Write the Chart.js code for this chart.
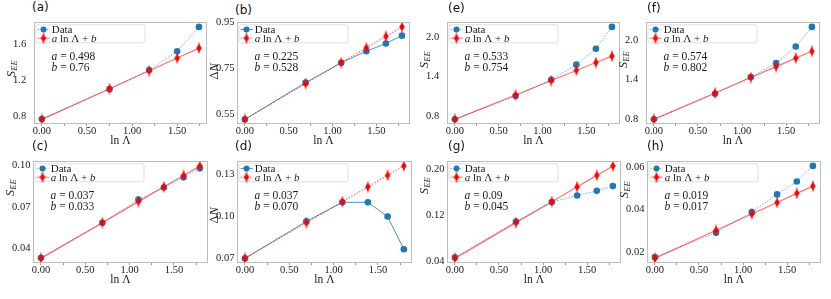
<!DOCTYPE html>
<html>
<head>
  <title>Entanglement fits</title>
  <script src="https://cdn.jsdelivr.net/npm/chart.js"></script>
  <style>
    body {
      margin: 0;
      width: 831px;
      height: 299px;
      position: relative;
      overflow: hidden;
      background: #fff;
    }
    .panel { position: absolute; }
    .tag {
      position: absolute;
      font-family: "DejaVu Sans", sans-serif;
      font-size: 12px;
      line-height: 1;
      color: #111;
    }
  </style>
</head>
<body>
  <script>
    // ln(Lambda) for Lambda = 1..5 and 1..6
    const lnLam5 = [0, 0.693, 1.099, 1.386, 1.609];
    const lnLam6 = [0, 0.693, 1.099, 1.386, 1.609, 1.792];

    const xTicks = [0, 0.5, 1.0, 1.5];
    const xTicksA = [0, 0.462, 0.924, 1.386];   // panel (a) has its own tick spots
    const xTickLabels = ['0.00', '0.50', '1.00', '1.50'];

    // (a) S_EE
    const dataA = [0.765, 1.10, 1.315, 1.525, 1.80];
    const fitA = [0.76, 1.105, 1.307, 1.45, 1.561];
    const yTicksA = [0.8, 1.2, 1.6];
    const yLabelsA = ['0.8', '1.2', '1.6'];

    // (b) Delta N
    const dataB = [0.528, 0.688, 0.775, 0.825, 0.859, 0.893];
    const fitB = [0.528, 0.684, 0.775, 0.840, 0.890, 0.931];
    const yTicksB = [0.55, 0.75, 0.95];
    const yLabelsB = ['0.55', '0.75', '0.95'];

    // (c) S_EE
    const dataC = [0.0335, 0.0585, 0.0751, 0.0838, 0.0912, 0.0977];
    const fitC = [0.033, 0.0586, 0.0737, 0.0843, 0.0925, 0.0993];
    const yTicksC = [0.04, 0.07, 0.10];
    const yLabelsC = ['0.04', '0.07', '0.10'];

    // (d) Delta N
    const dataD = [0.070, 0.0965, 0.1102, 0.1102, 0.100, 0.0765];
    const fitD = [0.070, 0.0956, 0.1107, 0.1213, 0.1296, 0.1363];
    const yTicksD = [0.07, 0.10, 0.13];
    const yLabelsD = ['0.07', '0.10', '0.13'];

    // (e) S_EE
    const dataE = [0.757, 1.106, 1.352, 1.58, 1.82, 2.15];
    const fitE = [0.754, 1.123, 1.340, 1.493, 1.612, 1.709];
    const yTicksE = [0.8, 1.4, 2.0];
    const yLabelsE = ['0.8', '1.4', '2.0'];

    // (f) S_EE
    const dataF = [0.805, 1.187, 1.44, 1.65, 1.90, 2.196];
    const fitF = [0.802, 1.200, 1.433, 1.598, 1.726, 1.830];
    const yTicksF = [0.8, 1.4, 2.0];
    const yLabelsF = ['0.8', '1.4', '2.0'];

    // (g) S_EE
    const dataG = [0.0467, 0.1094, 0.1434, 0.1546, 0.1628, 0.1711];
    const fitG = [0.045, 0.1074, 0.1439, 0.1698, 0.1898, 0.2063];
    const yTicksG = [0.04, 0.12, 0.20];
    const yLabelsG = ['0.04', '0.12', '0.20'];

    // (h) S_EE
    const dataH = [0.0176, 0.0291, 0.0388, 0.0471, 0.0532, 0.0605];
    const fitH = [0.017, 0.0302, 0.0379, 0.0433, 0.0476, 0.0510];
    const yTicksH = [0.02, 0.04, 0.06];
    const yLabelsH = ['0.02', '0.04', '0.06'];

    // layout: tag spot, plot box [l, t, r, b], y-title centre offset from box top
    const panels = [
      { tag: '(a)', tagPos: [32, 1],    box: [34, 19, 207, 124],  ty: 47, x: lnLam5, d: dataA, f: fitA, yt: yTicksA, yl: yLabelsA, xt: xTicksA, q: 'S', a: '0.498', b: '0.76' },
      { tag: '(b)', tagPos: [235, 4],   box: [237, 19, 410, 124], ty: 49, x: lnLam6, d: dataB, f: fitB, yt: yTicksB, yl: yLabelsB, xt: xTicks, q: 'N', a: '0.225', b: '0.528' },
      { tag: '(e)', tagPos: [448, 2],   box: [447, 19, 620, 124], ty: 38, x: lnLam6, d: dataE, f: fitE, yt: yTicksE, yl: yLabelsE, xt: xTicks, q: 'S', a: '0.533', b: '0.754' },
      { tag: '(f)', tagPos: [647, 2],   box: [646, 19, 820, 124], ty: 38, x: lnLam6, d: dataF, f: fitF, yt: yTicksF, yl: yLabelsF, xt: xTicks, q: 'S', a: '0.574', b: '0.802' },
      { tag: '(c)', tagPos: [32, 140],  box: [33, 158, 208, 263], ty: 27, x: lnLam6, d: dataC, f: fitC, yt: yTicksC, yl: yLabelsC, xt: xTicks, q: 'S', a: '0.037', b: '0.033' },
      { tag: '(d)', tagPos: [235, 140], box: [237, 158, 412, 263], ty: 54, x: lnLam6, d: dataD, f: fitD, yt: yTicksD, yl: yLabelsD, xt: xTicks, q: 'N', a: '0.037', b: '0.070' },
      { tag: '(g)', tagPos: [448, 140], box: [447, 158, 621, 263], ty: 25, x: lnLam6, d: dataG, f: fitG, yt: yTicksG, yl: yLabelsG, xt: xTicks, q: 'S', a: '0.09', b: '0.045' },
      { tag: '(h)', tagPos: [647, 140], box: [647, 158, 821, 263], ty: 29, x: lnLam6, d: dataH, f: fitH, yt: yTicksH, yl: yLabelsH, xt: xTicks, q: 'S', a: '0.019', b: '0.017' }
    ];

    const SERIF = "'Liberation Serif', 'DejaVu Serif', serif";
    const BLUE = '#1f77b4';
    const RED = '#ff0000';
    const TXT = '#1a1a1a';

    // thin red diamond with a small vertical bar through it
    function diamondMark() {
      const c = document.createElement('canvas');
      c.width = 8; c.height = 12;
      const g = c.getContext('2d');
      g.strokeStyle = RED; g.lineWidth = 1;
      g.beginPath(); g.moveTo(4, 0.5); g.lineTo(4, 11.5); g.stroke();
      g.fillStyle = RED;
      g.beginPath();
      g.moveTo(4, 1.8); g.lineTo(6.8, 6); g.lineTo(4, 10.2); g.lineTo(1.2, 6);
      g.closePath(); g.fill();
      return c;
    }
    const redMark = diamondMark();

    function rich(ctx, parts, x, y, size, align) {
      const fontOf = p => (p[1] ? 'italic ' : '') + size + 'px ' + SERIF;
      let w = 0;
      parts.forEach(p => { ctx.font = fontOf(p); w += ctx.measureText(p[0]).width; });
      let cx = align === 'center' ? x - w / 2 : x;
      parts.forEach(p => {
        ctx.font = fontOf(p);
        ctx.fillText(p[0], cx, y);
        cx += ctx.measureText(p[0]).width;
      });
    }

    function drawDecor(chart, p, isN) {
      const ctx = chart.ctx;
      const a = chart.chartArea;
      ctx.save();

      // frame
      ctx.strokeStyle = '#bdbdbd';
      ctx.lineWidth = 1;
      ctx.strokeRect(Math.round(a.left) + 0.5, Math.round(a.top) + 0.5,
        Math.round(a.right - a.left) - 1, Math.round(a.bottom - a.top) - 1);

      // legend box
      const lx = a.left + 2, ly = a.top + 2.5;
      ctx.fillStyle = 'rgba(255,255,255,0.85)';
      ctx.strokeStyle = '#d6d6d6';
      ctx.lineWidth = 0.8;
      ctx.beginPath();
      ctx.roundRect(lx, ly, 109, 18, 2);
      ctx.fill(); ctx.stroke();

      const r1 = ly + 4.6, r2 = ly + 13.4;
      ctx.lineWidth = 1;
      ctx.strokeStyle = isN ? 'rgba(31,119,180,0.8)' : 'rgba(31,119,180,0.6)';
      ctx.setLineDash(isN ? [] : [1.5, 1.5]);
      ctx.beginPath(); ctx.moveTo(lx + 1.5, r1); ctx.lineTo(lx + 14, r1); ctx.stroke();
      ctx.strokeStyle = 'rgba(255,0,0,0.55)';
      ctx.setLineDash(isN ? [1.5, 1.5] : []);
      ctx.beginPath(); ctx.moveTo(lx + 1.5, r2); ctx.lineTo(lx + 14, r2); ctx.stroke();
      ctx.setLineDash([]);
      ctx.fillStyle = BLUE;
      ctx.beginPath(); ctx.arc(lx + 7.5, r1, 3, 0, Math.PI * 2); ctx.fill();
      ctx.drawImage(redMark, lx + 7.5 - 4, r2 - 6);

      ctx.fillStyle = TXT;
      ctx.textBaseline = 'middle';
      ctx.textAlign = 'left';
      rich(ctx, [['Data', false]], lx + 15.7, r1 + 0.5, 11);
      rich(ctx, [['a', true], [' ln \u039B + ', false], ['b', true]], lx + 15.7, r2 + 0.5, 11);

      // fit parameters
      rich(ctx, [['a', true], [' = ' + p.a, false]], a.left + 17.5, a.top + 35, 11.5);
      rich(ctx, [['b', true], [' = ' + p.b, false]], a.left + 17.5, a.top + 45.5, 11.5);

      // y title
      ctx.textBaseline = 'alphabetic';
      ctx.translate(a.left - 19.5, a.top + p.ty);
      ctx.rotate(-Math.PI / 2);
      if (p.q === 'S') {
        rich(ctx, [['S', true]], -8, 0, 12.5);
        ctx.font = 'italic 8.5px ' + SERIF;
        ctx.fillText('EE', -1.5, 2.5);
      } else {
        rich(ctx, [['\u0394', false], ['N', true]], 0, 0, 12.5, 'center');
      }
      ctx.restore();
    }

    const PAD_L = 12, Y_W = 21, PAD_T = 5, PAD_R = 5, X_H = 26;

    panels.forEach(p => {
      const [l, t, r, b] = p.box;
      const isN = p.q === 'N';
      const w = (r - l) + PAD_L + Y_W + PAD_R;
      const h = (b - t) + PAD_T + X_H;

      const tag = document.createElement('div');
      tag.className = 'tag';
      tag.textContent = p.tag;
      tag.style.left = p.tagPos[0] + 'px';
      tag.style.top = p.tagPos[1] + 'px';
      document.body.appendChild(tag);

      const div = document.createElement('div');
      div.className = 'panel';
      div.style.left = (l - PAD_L - Y_W) + 'px';
      div.style.top = (t - PAD_T) + 'px';
      const canvas = document.createElement('canvas');
      canvas.width = w; canvas.height = h;
      canvas.style.width = w + 'px'; canvas.style.height = h + 'px';
      div.appendChild(canvas);
      document.body.appendChild(div);

      const xmax = p.x[p.x.length - 1];
      const all = p.d.concat(p.f);
      const lo = Math.min(...all), hi = Math.max(...all);
      const m = 0.05 * (hi - lo);

      // major ticks plus minor ones halfway between
      const xt = [];
      p.xt.forEach(v => {
        xt.push(v);
        const step = p.xt[1] - p.xt[0];
        if (v + step / 2 < xmax * 1.05) xt.push(v + step / 2);
      });

      new Chart(canvas, {
        type: 'line',
        data: {
          datasets: [
            {
              label: 'a ln \u039B + b',
              data: p.x.map((x, i) => ({ x: x, y: p.f[i] })),
              borderColor: 'rgba(255,0,0,0.55)',
              borderWidth: 1.2,
              borderDash: isN ? [1.5, 1.5] : [],
              pointStyle: redMark,
              pointRadius: 4,
              tension: 0,
              order: 0
            },
            {
              label: 'Data',
              data: p.x.map((x, i) => ({ x: x, y: p.d[i] })),
              borderColor: isN ? 'rgba(31,119,180,0.8)' : 'rgba(31,119,180,0.6)',
              borderWidth: 1,
              borderDash: isN ? [] : [1.5, 1.5],
              pointStyle: 'circle',
              pointRadius: 3.3,
              pointBackgroundColor: BLUE,
              pointBorderWidth: 0,
              tension: 0,
              order: 1
            }
          ]
        },
        options: {
          responsive: false,
          animation: false,
          events: [],
          layout: { padding: { left: PAD_L, top: PAD_T, right: PAD_R, bottom: 0 } },
          plugins: { legend: { display: false }, tooltip: { enabled: false } },
          scales: {
            x: {
              type: 'linear',
              min: -0.05 * xmax,
              max: 1.05 * xmax,
              afterFit: s => { s.height = X_H; },
              afterBuildTicks: s => { s.ticks = xt.map(v => ({ value: v })); },
              ticks: {
                autoSkip: false,
                maxRotation: 0,
                padding: -1,
                color: TXT,
                font: { family: SERIF, size: 10.5 },
                callback: v => {
                  const k = p.xt.findIndex(u => Math.abs(u - v) < 1e-6);
                  return k >= 0 ? xTickLabels[k] : '';
                }
              },
              grid: { drawOnChartArea: false, tickLength: 2, color: '#9a9a9a' },
              border: { display: false },
              title: {
                display: true,
                text: 'ln \u039B',
                color: TXT,
                font: { family: SERIF, size: 11.5 },
                padding: { top: 0, bottom: 1.7 }
              }
            },
            y: {
              min: lo - m,
              max: hi + m,
              afterFit: s => { s.width = Y_W; },
              afterBuildTicks: s => { s.ticks = p.yt.map(v => ({ value: v })); },
              ticks: {
                crossAlign: 'far',
                padding: 2,
                color: TXT,
                font: { family: SERIF, size: 10.5 },
                callback: (v, i) => p.yl[i]
              },
              grid: { drawOnChartArea: false, display: false },
              border: { display: false }
            }
          }
        },
        plugins: [{ id: 'decor', afterDraw: c => drawDecor(c, p, isN) }]
      });
    });
  </script>
</body>
</html>
